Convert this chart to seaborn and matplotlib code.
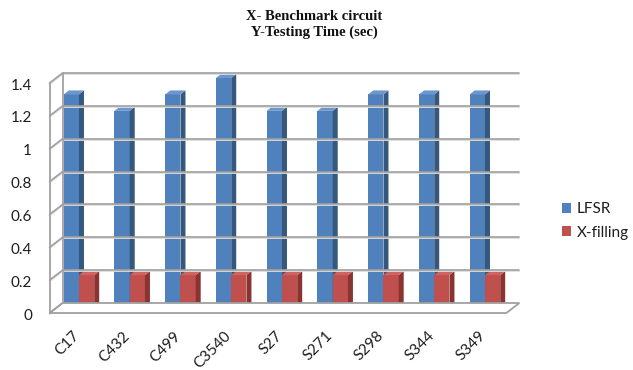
import numpy as np
import pandas as pd
import matplotlib
matplotlib.use("Agg")
import matplotlib.pyplot as plt
import seaborn as sns
from matplotlib.patches import Polygon, Patch
from matplotlib.lines import Line2D
from matplotlib.transforms import ScaledTranslation, IdentityTransform

# ---- data ----
categories = ["C17", "C432", "C499", "C3540", "S27", "S271", "S298", "S344", "S349"]
lfsr = [1.3, 1.2, 1.3, 1.4, 1.2, 1.2, 1.3, 1.3, 1.3]
x_filling = [0.2, 0.2, 0.2, 0.2, 0.2, 0.2, 0.2, 0.2, 0.2]
series_names = ["LFSR", "X-filling"]
y_ticks = [0, 0.2, 0.4, 0.6, 0.8, 1.0, 1.2, 1.4]
y_tick_labels = ["0", "0.2", "0.4", "0.6", "0.8", "1", "1.2", "1.4"]
title_lines = ["X- Benchmark circuit", "Y-Testing Time (sec)"]

df = pd.DataFrame({
    "circuit": categories * 2,
    "time": lfsr + x_filling,
    "series": [series_names[0]] * len(categories) + [series_names[1]] * len(categories),
})

# ---- style ----
sns.set_theme(style="white")
plt.rcParams["font.family"] = ["Lato", "DejaVu Sans"]

BLUE, BLUE_SIDE, BLUE_TOP = "#4F81BD", "#36587F", "#6B97CE"
RED, RED_SIDE, RED_TOP = "#C0504D", "#8A3432", "#D0625F"
GRID = "#A0A0A0"
TXT = "#1E1E1E"

W, H = 633, 370
fig = plt.figure(figsize=(W / 100, H / 100), dpi=100)
fig.patch.set_facecolor("white")
ax = fig.add_axes([53.6 / W, 62 / H, 456.75 / W, 230 / H])

sns.barplot(data=df, x="circuit", y="time", hue="series", order=categories,
            hue_order=series_names, palette=[BLUE, RED], width=0.6,
            saturation=1, edgecolor="none", linewidth=0, legend=False, ax=ax)
ax.set_xlim(-0.5, len(categories) - 0.5)
ax.set_ylim(0, 1.4)
for s in ax.spines.values():
    s.set_visible(False)
ax.set_xlabel("")
ax.set_ylabel("")
ax.set_facecolor("none")

# ---- 3D-ish walls and gridlines (derived from the axis scales) ----
T = ax.transData
xL, _ = T.transform((-0.5, 0))
xR, _ = T.transform((len(categories) - 0.5, 0))
FX, FY = -4, -5   # front plane offset (display px)
BX, BY = 9, 5     # back plane offset
ident = IdentityTransform()

y0 = T.transform((0, 0))[1]
ytop = T.transform((0, y_ticks[-1]))[1]
floor = Polygon([(xL + FX, y0 + FY), (xR + FX, y0 + FY), (xR + BX, y0 + BY), (xL + BX, y0 + BY)],
                closed=True, facecolor="white", edgecolor=GRID, lw=1.3,
                transform=ident, zorder=0.5, clip_on=False)
fig.add_artist(floor)
lines = []
lines.append([(xL + FX, y0 + FY), (xL + FX, ytop + FY)])
lines.append([(xL + BX, y0 + BY), (xL + BX, ytop + BY)])
for v in y_ticks:
    yv = T.transform((0, v))[1]
    lines.append([(xL + FX, yv + FY), (xL + BX, yv + BY)])
    if v > 0:
        lines.append([(xL + BX, yv + BY), (xR + BX, yv + BY)])
for seg in lines:
    (a, b), (c, d) = seg
    fig.add_artist(Line2D([a, c], [b - 1, d - 1], color="#DDDDDD", lw=1.3,
                          transform=ident, zorder=0.4))
    fig.add_artist(Line2D([a, c], [b, d], color=GRID, lw=1.2,
                          transform=ident, zorder=0.6))

# ---- bar depth faces ----
DX, DY = 5, 4
n = len(categories)
for i, patch in enumerate(ax.patches):
    k = i // n
    side_c = BLUE_SIDE if k == 0 else RED_SIDE
    top_c = BLUE_TOP if k == 0 else RED_TOP
    z = 3 + k * 0.5
    patch.set_zorder(z)
    x0 = patch.get_x()
    w = patch.get_width()
    h = patch.get_height()
    X0, Y0 = T.transform((x0, 0))
    X1, Y1 = T.transform((x0 + w, h))
    side = Polygon([(X1, Y0), (X1, Y1), (X1 + DX, Y1 + DY), (X1 + DX, Y0 + DY)],
                   closed=True, facecolor=side_c, edgecolor="none",
                   transform=ident, zorder=z + 0.1, clip_on=False)
    top = Polygon([(X0, Y1), (X1, Y1), (X1 + DX, Y1 + DY), (X0 + DX, Y1 + DY)],
                  closed=True, facecolor=top_c, edgecolor="none",
                  transform=ident, zorder=z + 0.1, clip_on=False)
    ax.add_patch(side)
    ax.add_patch(top)
    patch.set_clip_on(False)

# ---- ticks ----
ax.set_yticks(y_ticks, y_tick_labels)
ax.tick_params(axis="y", length=0, pad=15.5, labelsize=11, labelcolor=TXT)
for lab in ax.get_yticklabels():
    lab.set_transform(lab.get_transform() + ScaledTranslation(0, -6 / 100, fig.dpi_scale_trans))

ax.set_xticks(range(n), categories)
ax.tick_params(axis="x", length=0, pad=18.5, labelsize=11, labelcolor=TXT)
for lab in ax.get_xticklabels():
    lab.set_rotation(45)
    lab.set_ha("right")
    lab.set_va("center")
    lab.set_rotation_mode("anchor")
    lab.set_transform(lab.get_transform() + ScaledTranslation(-2 / 100, 0, fig.dpi_scale_trans))

# ---- title ----
fig.text(314 / W, 1 - 16 / H, title_lines[0], ha="center", va="center",
         family=["Liberation Serif"], weight="bold", size=10.5, color="#111111")
fig.text(314 / W, 1 - 32 / H, title_lines[1], ha="center", va="center",
         family=["Liberation Serif"], weight="bold", size=10.5, color="#111111")

# ---- legend ----
handles = [Patch(facecolor=BLUE, edgecolor="none", label=series_names[0]),
           Patch(facecolor=RED, edgecolor="none", label=series_names[1])]
fig.legend(handles=handles, loc="center left", bbox_to_anchor=(562 / W, 1 - 221 / H),
           frameon=False, fontsize=11, handlelength=0.6, handleheight=0.6,
           handletextpad=0.35, labelspacing=0.6, borderpad=0, borderaxespad=0,
           labelcolor=TXT)

fig.savefig("out.png", dpi=100, facecolor="white")
